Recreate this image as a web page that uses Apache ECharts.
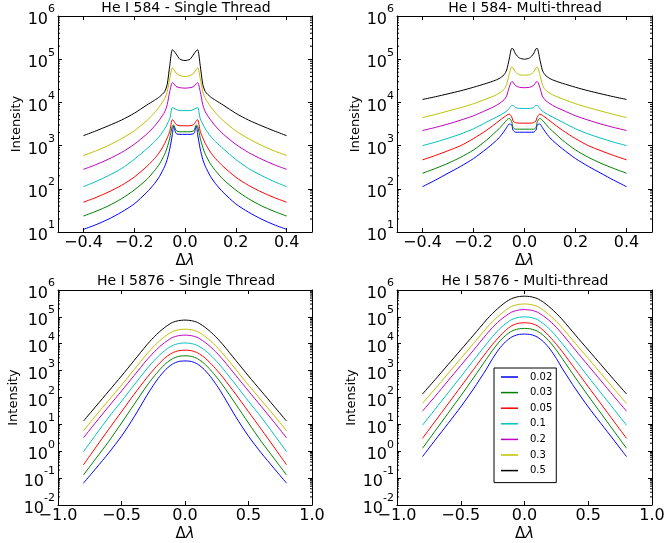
<!DOCTYPE html>
<html><head><meta charset="utf-8">
<script src="https://cdn.jsdelivr.net/npm/echarts@6/dist/echarts.min.js"></script>
<style>html,body{margin:0;padding:0;background:#fff}#c{width:667px;height:543px}</style>
</head><body><div id="c"></div>
<script>
// ---------- data ----------
const seriesNames = ['0.02','0.03','0.05','0.1','0.2','0.3','0.5'];
const seriesColors = ['#0000ff','#008000','#ff0000','#00bfbf','#bf00bf','#bfbf00','#000000'];
const panelTitles = ['He I 584 - Single Thread','He I 584- Multi-thread','He I 5876 - Single Thread','He I 5876 - Multi-thread'];

const xTop = [-0.4,-0.35,-0.3,-0.25,-0.2,-0.15,-0.12,-0.1,-0.08,-0.07,-0.06,-0.05,-0.045,-0.035,-0.02,0,0.02,0.035,0.045,0.05,0.06,0.07,0.08,0.1,0.12,0.15,0.2,0.25,0.3,0.35,0.4];
const xBottom = [-0.8,-0.7,-0.6,-0.5,-0.4,-0.3,-0.25,-0.2,-0.15,-0.1,-0.05,0,0.05,0.1,0.15,0.2,0.25,0.3,0.4,0.5,0.6,0.7,0.8];

const xTicksTop = [-0.4,-0.2,0,0.2,0.4];
const xTicksBottom = [-1,-0.5,0,0.5,1];

// He I 584 - Single Thread
const tl_002 = [11.5,14.8,20,28.8,44.7,83.2,132,195,331,479,832,1780,2820,1910,1820,1820,1820,1910,2820,1780,832,479,331,195,132,83.2,44.7,28.8,20,14.8,11.5];
const tl_003 = [23.4,30.2,40.7,58.9,93.3,166,263,380,631,912,1480,2820,3020,2240,2090,2090,2090,2240,3020,2820,1480,912,631,380,263,166,93.3,58.9,40.7,30.2,23.4];
const tl_005 = [49,63,85,120,186,331,501,708,1120,1510,2140,3980,3800,3090,2880,2880,2880,3090,3800,3980,2140,1510,1120,708,501,331,186,120,85,63,49];
const tl_01  = [112,148,204,295,479,851,1230,1660,2450,3160,4170,7590,7410,6920,6460,6460,6460,6920,7410,7590,4170,3160,2450,1660,1230,851,479,295,204,148,112];
const tl_02  = [282,363,490,692,1070,1860,2820,3980,6030,8910,17800,28800,27500,23400,21900,21400,21900,23400,27500,28800,17800,8910,6030,3980,2820,1860,1070,692,490,363,282];
const tl_03  = [589,759,1020,1450,2190,3800,5750,8130,12300,17800,35500,63100,58900,47900,41700,39800,41700,47900,58900,63100,35500,17800,12300,8130,5750,3800,2190,1450,1020,759,589];
const tl_05  = [1700,2200,2900,3900,5600,8700,11200,13500,17800,26300,71000,166000,158000,132000,100000,93000,100000,132000,158000,166000,71000,26300,17800,13500,11200,8700,5600,3900,2900,2200,1700];

// He I 584 - Multi-thread
const tr_002 = [112,158,229,331,501,832,1170,1510,2140,2630,3160,3020,2290,2040,2040,2040,2040,2040,2290,3020,3160,2630,2140,1510,1170,832,501,331,229,158,112];
const tr_003 = [229,295,389,537,794,1320,1910,2450,3310,3890,4270,3550,2630,2400,2400,2400,2400,2400,2630,3550,4270,3890,3310,2450,1910,1320,794,537,389,295,229];
const tr_005 = [468,589,759,1000,1450,2240,3020,3720,4570,5010,5370,4570,3720,3390,3310,3310,3310,3390,3720,4570,5370,5010,4570,3720,3020,2240,1450,1000,759,589,468];
const tr_01  = [1000,1200,1480,1860,2450,3470,4270,4900,5750,6310,7240,8510,8510,7590,7240,7240,7240,7590,8510,8510,7240,6310,5750,4900,4270,3470,2450,1860,1480,1200,1000];
const tr_02  = [2240,2630,3160,3890,4900,6610,7940,9330,11500,14100,22400,30200,29500,24500,22400,21900,22400,24500,29500,30200,22400,14100,11500,9330,7940,6610,4900,3890,3160,2630,2240];
const tr_03  = [4470,5250,6310,7590,9330,12000,14100,16200,20000,26300,44700,66100,63100,50100,43700,42700,43700,50100,63100,66100,44700,26300,20000,16200,14100,12000,9330,7590,6310,5250,4470];
const tr_05  = [11700,13500,15800,18600,22400,27500,31600,35500,43700,56200,100000,178000,174000,132000,107000,100000,107000,132000,174000,178000,100000,56200,43700,35500,31600,27500,22400,18600,15800,13500,11700];

// He I 5876 - Single Thread
const bl_002 = [0.0646,0.234,0.871,3.63,19.1,120,282,603,1120,1740,2190,2290,2190,1740,1120,603,282,120,19.1,3.63,0.871,0.234,0.0646];
const bl_003 = [0.13,0.55,2.34,11.2,56.2,275,562,1070,1860,2750,3390,3550,3390,2750,1860,1070,562,275,56.2,11.2,2.34,0.55,0.13];
const bl_005 = [0.309,1.45,6.61,29.5,132,550,1050,1910,3160,4570,5500,5750,5500,4570,3160,1910,1050,550,132,29.5,6.61,1.45,0.309];
const bl_01  = [0.955,4.27,18.6,72.4,295,1170,2190,3800,6030,8510,10200,10700,10200,8510,6030,3800,2190,1170,295,72.4,18.6,4.27,0.955];
const bl_02  = [3.16,12.3,46.8,174,661,2510,4570,7760,12000,17000,20000,20900,20000,17000,12000,7760,4570,2510,661,174,46.8,12.3,3.16];
const bl_03  = [5.75,21.9,79.4,288,1100,4170,7590,12900,20000,28200,33100,34700,33100,28200,20000,12900,7590,4170,1100,288,79.4,21.9,5.75];
const bl_05  = [13.2,47.9,174,631,2400,9120,16600,28200,43700,61700,72400,75900,72400,61700,43700,28200,16600,9120,2400,631,174,47.9,13.2];

// He I 5876 - Multi-thread
const br_002 = [0.631,2.63,10.7,44.7,209,1120,2820,6310,11700,17800,21900,22900,21900,17800,11700,6310,2820,1120,209,44.7,10.7,2.63,0.631];
const br_003 = [1.29,5.75,25.7,115,537,2630,5750,11500,20000,29500,35500,37200,35500,29500,20000,11500,5750,2630,537,115,25.7,5.75,1.29];
const br_005 = [3.02,13.2,57.5,251,1100,4790,9550,17800,30900,46800,57500,60300,57500,46800,30900,17800,9550,4790,1100,251,57.5,13.2,3.02];
const br_01  = [9.33,37.2,148,589,2400,9550,18600,33900,55000,79400,95500,100000,95500,79400,55000,33900,18600,9550,2400,589,148,37.2,9.33];
const br_02  = [30.9,112,417,1550,5750,21900,40700,69200,107000,151000,178000,186000,178000,151000,107000,69200,40700,21900,5750,1550,417,112,30.9];
const br_03  = [60.3,214,776,2820,10200,37200,67600,112000,174000,245000,288000,302000,288000,245000,174000,112000,67600,37200,10200,2820,776,214,60.3];
const br_05  = [135,468,1660,5890,20900,75900,135000,224000,347000,479000,562000,589000,562000,479000,347000,224000,135000,75900,20900,5890,1660,468,135];

// ---------- layout ----------
const FONT = 'DejaVu Sans';
const panels = [
  {grid:{left:58, top:16, width:254, height:216}, xs:xTop, xMin:-0.5, xMax:0.5, xTicks:xTicksTop, yMinExp:1, yMaxExp:6,
   data:[tl_002,tl_003,tl_005,tl_01,tl_02,tl_03,tl_05], nameGap:35},
  {grid:{left:397, top:16, width:255, height:216}, xs:xTop, xMin:-0.5, xMax:0.5, xTicks:xTicksTop, yMinExp:1, yMaxExp:6,
   data:[tr_002,tr_003,tr_005,tr_01,tr_02,tr_03,tr_05], nameGap:35},
  {grid:{left:58, top:290, width:254, height:215}, xs:xBottom, xMin:-1, xMax:1, xTicks:xTicksBottom, yMinExp:-2, yMaxExp:6,
   data:[bl_002,bl_003,bl_005,bl_01,bl_02,bl_03,bl_05], nameGap:38},
  {grid:{left:397, top:290, width:255, height:215}, xs:xBottom, xMin:-1, xMax:1, xTicks:xTicksBottom, yMinExp:-2, yMaxExp:6,
   data:[br_002,br_003,br_005,br_01,br_02,br_03,br_05], nameGap:39}
];

function fmtX(v){ const s = Number(v).toFixed(1); return s.replace('-', '\u2212'); }
function fmtY(v){ const e = Math.round(Math.log10(v)); return '{b|10}{s|' + e + '}'; }

const grids = [], xAxes = [], yAxes = [], series = [];
const tickStyle = {show:true, inside:true, length:4, lineStyle:{color:'#000', width:1}};
panels.forEach((p, i) => {
  grids.push(Object.assign({containLabel:false, outerBoundsMode:'none', show:false}, p.grid));
  xAxes.push({type:'value', gridIndex:i, position:'bottom', min:p.xMin, max:p.xMax,
    axisLine:{show:true, onZero:false, lineStyle:{color:'#000', width:1}},
    axisTick:Object.assign({customValues:p.xTicks}, tickStyle),
    axisLabel:{customValues:p.xTicks, formatter:fmtX, color:'#000', fontSize:16, fontFamily:FONT, margin:3},
    splitLine:{show:false}, nameMoveOverlap:false,
    name:'{d|\u0394}{l|\u03bb}', nameLocation:'middle', nameGap:22,
    nameTextStyle:{color:'#000', fontSize:15, fontFamily:FONT,
      rich:{d:{fontSize:15, fontFamily:FONT, color:'#000'}, l:{fontSize:15, fontFamily:FONT, fontStyle:'italic', color:'#000'}}}});
  xAxes.push({type:'value', gridIndex:i, position:'top', min:p.xMin, max:p.xMax,
    axisLine:{show:true, onZero:false, lineStyle:{color:'#000', width:1}},
    axisTick:Object.assign({customValues:p.xTicks}, tickStyle),
    axisLabel:{show:false}, splitLine:{show:false}});
  const yBase = {type:'log', logBase:10, gridIndex:i, min:Math.pow(10,p.yMinExp), max:Math.pow(10,p.yMaxExp),
    splitNumber:p.yMaxExp - p.yMinExp, splitLine:{show:false},
    axisLine:{show:true, onZero:false, lineStyle:{color:'#000', width:1}}, axisTick:tickStyle};
  yAxes.push(Object.assign({}, yBase, {position:'left',
    axisLabel:{formatter:fmtY, color:'#000', fontFamily:FONT, margin:3,
      rich:{b:{fontSize:16, lineHeight:24, verticalAlign:'bottom', fontFamily:FONT, color:'#000'},
            s:{fontSize:11, lineHeight:11, verticalAlign:'top', fontFamily:FONT, color:'#000'}}},
    nameMoveOverlap:false,
    name:'Intensity', nameLocation:'middle', nameGap:p.nameGap, nameTextStyle:{color:'#000', fontSize:13, fontFamily:FONT}}));
  yAxes.push(Object.assign({}, yBase, {position:'right', axisLabel:{show:false}}));
  p.data.forEach((vals, k) => {
    series.push({type:'line', name:seriesNames[k], xAxisIndex:2*i, yAxisIndex:2*i,
      data:p.xs.map((x, j) => [x, vals[j]]), symbol:'none', showSymbol:false, smooth:0.25,
      color:seriesColors[k], lineStyle:{width:1, color:seriesColors[k]}, animation:false, z:3});
  });
  // minor log ticks (2..9 x 10^n) on left and right spines
  series.push({type:'custom', xAxisIndex:2*i, yAxisIndex:2*i, silent:true, animation:false, clip:false,
    data:[[p.xMin, Math.pow(10,p.yMinExp)]],
    renderItem:function(params, api){
      const ch = [];
      for (let e = p.yMinExp; e < p.yMaxExp; e++) {
        for (let m = 2; m <= 9; m++) {
          const v = m * Math.pow(10, e);
          const a = api.coord([p.xMin, v]), b = api.coord([p.xMax, v]);
          ch.push({type:'line', shape:{x1:a[0], y1:a[1], x2:a[0]+2, y2:a[1]}, style:{stroke:'#000', lineWidth:1}});
          ch.push({type:'line', shape:{x1:b[0]-2, y1:b[1], x2:b[0], y2:b[1]}, style:{stroke:'#000', lineWidth:1}});
        }
      }
      return {type:'group', children:ch};
    }});
});

const titleGraphics = [
  {x:186, y:1}, {x:525, y:1}, {x:186, y:274}, {x:525, y:274}
].map((pos, i) => ({type:'text', x:pos.x, y:pos.y,
  style:{text:panelTitles[i], fill:'#000', fontSize:14, fontFamily:FONT, textAlign:'center', textVerticalAlign:'top'}}));

const chart = echarts.init(document.getElementById('c'), null, {renderer:'canvas'});
chart.setOption({
  animation:false,
  backgroundColor:'#fff',
  textStyle:{fontFamily:FONT},
  grid:grids, xAxis:xAxes, yAxis:yAxes, series:series,
  graphic:titleGraphics,
  legend:{data:seriesNames, orient:'vertical', left:494, top:368, icon:'rect', itemWidth:17, itemHeight:1.5, itemGap:3.6,
    padding:[3,4,6,7], borderColor:'#000', borderWidth:1, borderRadius:0, backgroundColor:'#fff',
    textStyle:{fontSize:10, lineHeight:12, color:'#000', fontFamily:FONT, padding:[0,0,0,7]}, selectedMode:false}
});
</script></body></html>
